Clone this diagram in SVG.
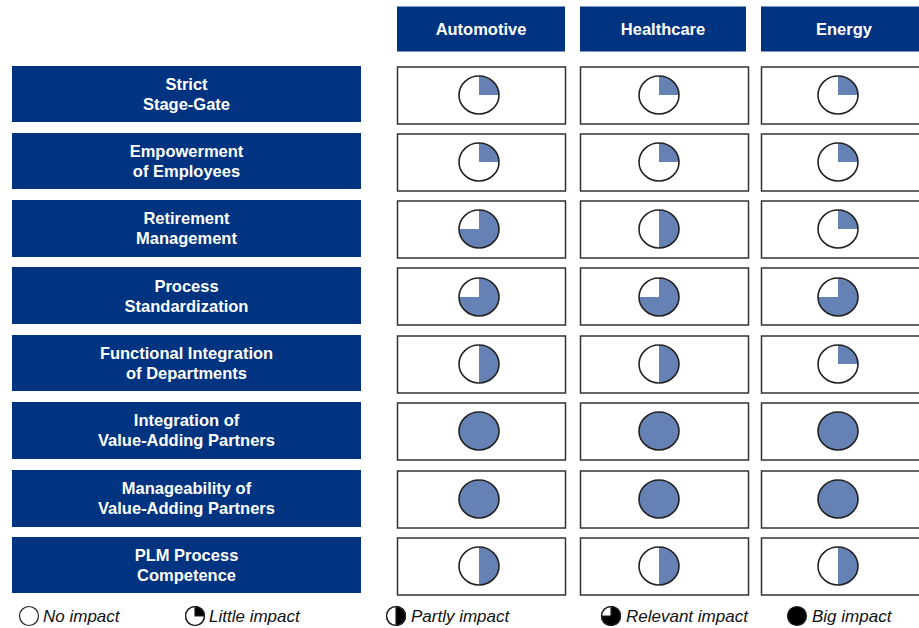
<svg xmlns="http://www.w3.org/2000/svg" xmlns:xlink="http://www.w3.org/1999/xlink" width="919" height="628" viewBox="0 0 919 628">
<style>
.hdr{fill:#003380;}
.ht{fill:#fff;font-family:"Liberation Sans",Arial,sans-serif;font-weight:bold;font-size:16.5px;text-anchor:middle;}
.cell{fill:#fff;stroke:#333;stroke-width:1.5;}
.pbg{fill:#fff;}
.pw{fill:#6682b4;}
.po{fill:none;stroke:#222;stroke-width:1.6;}
.lg{fill:#000;stroke:#222;stroke-width:1.2;}
.lgo{fill:none;stroke:#222;stroke-width:1.2;}
.lt{fill:#111;font-family:"Liberation Sans",Arial,sans-serif;font-style:italic;font-size:17px;}
</style>
<defs>
<g id="p-little"><ellipse class="pbg" rx="20" ry="19"/><path class="pw" d="M0,0 V-19 A20,19 0 0 1 20,0 Z"/><ellipse class="po" rx="20" ry="19"/></g>
<g id="p-partly"><ellipse class="pbg" rx="20" ry="19"/><path class="pw" d="M0,-19 A20,19 0 0 1 0,19 Z"/><ellipse class="po" rx="20" ry="19"/></g>
<g id="p-relevant"><ellipse class="pbg" rx="20" ry="19"/><path class="pw" d="M0,0 V-19 A20,19 0 1 1 -20,0 Z"/><ellipse class="po" rx="20" ry="19"/></g>
<g id="p-big"><ellipse class="pw" rx="20" ry="19"/><ellipse class="po" rx="20" ry="19"/></g>
</defs>

<g id="headers">
<g id="h-automotive"><rect class="hdr" x="397" y="6.5" width="168" height="45"/><text class="ht" x="481" y="35">Automotive</text></g>
<g id="h-healthcare"><rect class="hdr" x="580" y="6.5" width="166" height="45"/><text class="ht" x="663" y="35">Healthcare</text></g>
<g id="h-energy"><rect class="hdr" x="761" y="6.5" width="170" height="45"/><text class="ht" x="844" y="35">Energy</text></g>
</g>

<g id="row-labels">
<g id="r1"><rect class="hdr" x="12" y="66" width="349" height="56"/><text class="ht" x="186.5" y="90">Strict</text><text class="ht" x="186.5" y="110">Stage-Gate</text></g>
<g id="r2"><rect class="hdr" x="12" y="133" width="349" height="56"/><text class="ht" x="186.5" y="157">Empowerment</text><text class="ht" x="186.5" y="177">of Employees</text></g>
<g id="r3"><rect class="hdr" x="12" y="200" width="349" height="57"/><text class="ht" x="186.5" y="224">Retirement</text><text class="ht" x="186.5" y="244">Management</text></g>
<g id="r4"><rect class="hdr" x="12" y="267" width="349" height="57"/><text class="ht" x="186.5" y="292">Process</text><text class="ht" x="186.5" y="312">Standardization</text></g>
<g id="r5"><rect class="hdr" x="12" y="335" width="349" height="56"/><text class="ht" x="186.5" y="359">Functional Integration</text><text class="ht" x="186.5" y="379">of Departments</text></g>
<g id="r6"><rect class="hdr" x="12" y="402" width="349" height="57"/><text class="ht" x="186.5" y="426">Integration of</text><text class="ht" x="186.5" y="446">Value-Adding Partners</text></g>
<g id="r7"><rect class="hdr" x="12" y="470" width="349" height="57"/><text class="ht" x="186.5" y="494">Manageability of</text><text class="ht" x="186.5" y="514">Value-Adding Partners</text></g>
<g id="r8"><rect class="hdr" x="12" y="537" width="349" height="56"/><text class="ht" x="186.5" y="561">PLM Process</text><text class="ht" x="186.5" y="581">Competence</text></g>
</g>

<g id="cells">
<g id="c1">
<rect class="cell" x="397.5" y="67" width="168" height="57"/><use xlink:href="#p-little" x="479" y="95"/>
<rect class="cell" x="580.5" y="67" width="168" height="57"/><use xlink:href="#p-little" x="659" y="95"/>
<rect class="cell" x="761.5" y="67" width="170" height="57"/><use xlink:href="#p-little" x="838" y="95"/>
</g>
<g id="c2">
<rect class="cell" x="397.5" y="134" width="168" height="57"/><use xlink:href="#p-little" x="479" y="162"/>
<rect class="cell" x="580.5" y="134" width="168" height="57"/><use xlink:href="#p-little" x="659" y="162"/>
<rect class="cell" x="761.5" y="134" width="170" height="57"/><use xlink:href="#p-little" x="838" y="162"/>
</g>
<g id="c3">
<rect class="cell" x="397.5" y="201" width="168" height="57"/><use xlink:href="#p-relevant" x="479" y="229"/>
<rect class="cell" x="580.5" y="201" width="168" height="57"/><use xlink:href="#p-partly" x="659" y="229"/>
<rect class="cell" x="761.5" y="201" width="170" height="57"/><use xlink:href="#p-little" x="838" y="229"/>
</g>
<g id="c4">
<rect class="cell" x="397.5" y="268" width="168" height="57"/><use xlink:href="#p-relevant" x="479" y="297"/>
<rect class="cell" x="580.5" y="268" width="168" height="57"/><use xlink:href="#p-relevant" x="659" y="297"/>
<rect class="cell" x="761.5" y="268" width="170" height="57"/><use xlink:href="#p-relevant" x="838" y="297"/>
</g>
<g id="c5">
<rect class="cell" x="397.5" y="336" width="168" height="57"/><use xlink:href="#p-partly" x="479" y="364"/>
<rect class="cell" x="580.5" y="336" width="168" height="57"/><use xlink:href="#p-partly" x="659" y="364"/>
<rect class="cell" x="761.5" y="336" width="170" height="57"/><use xlink:href="#p-little" x="838" y="364"/>
</g>
<g id="c6">
<rect class="cell" x="397.5" y="403" width="168" height="57"/><use xlink:href="#p-big" x="479" y="431"/>
<rect class="cell" x="580.5" y="403" width="168" height="57"/><use xlink:href="#p-big" x="659" y="431"/>
<rect class="cell" x="761.5" y="403" width="170" height="57"/><use xlink:href="#p-big" x="838" y="431"/>
</g>
<g id="c7">
<rect class="cell" x="397.5" y="471" width="168" height="57"/><use xlink:href="#p-big" x="479" y="499"/>
<rect class="cell" x="580.5" y="471" width="168" height="57"/><use xlink:href="#p-big" x="659" y="499"/>
<rect class="cell" x="761.5" y="471" width="170" height="57"/><use xlink:href="#p-big" x="838" y="499"/>
</g>
<g id="c8">
<rect class="cell" x="397.5" y="538" width="168" height="57"/><use xlink:href="#p-partly" x="479" y="566"/>
<rect class="cell" x="580.5" y="538" width="168" height="57"/><use xlink:href="#p-partly" x="659" y="566"/>
<rect class="cell" x="761.5" y="538" width="170" height="57"/><use xlink:href="#p-partly" x="838" y="566"/>
</g>
</g>

<g id="legend">
<g id="lg-none"><circle cx="29" cy="616" r="9.5" fill="#fff" class="lgo"/><text class="lt" x="43" y="622">No impact</text></g>
<g id="lg-little"><circle cx="195" cy="616" r="9.5" fill="#fff" class="lgo"/><path class="lg" d="M195,616 V606.5 A9.5,9.5 0 0 1 204.5,616 Z"/><circle cx="195" cy="616" r="9.5" class="lgo"/><text class="lt" x="209" y="622">Little impact</text></g>
<g id="lg-partly"><circle cx="396" cy="616" r="9.5" fill="#fff" class="lgo"/><path class="lg" d="M396,606.5 A9.5,9.5 0 0 1 396,625.5 Z"/><circle cx="396" cy="616" r="9.5" class="lgo"/><text class="lt" x="411" y="622">Partly impact</text></g>
<g id="lg-relevant"><circle cx="611" cy="616" r="9.5" fill="#fff" class="lgo"/><path class="lg" d="M611,616 V606.5 A9.5,9.5 0 1 1 601.5,616 Z"/><circle cx="611" cy="616" r="9.5" class="lgo"/><text class="lt" x="626" y="622">Relevant impact</text></g>
<g id="lg-big"><circle cx="797" cy="616" r="9.5" class="lg"/><text class="lt" x="812" y="622">Big impact</text></g>
</g>
</svg>
